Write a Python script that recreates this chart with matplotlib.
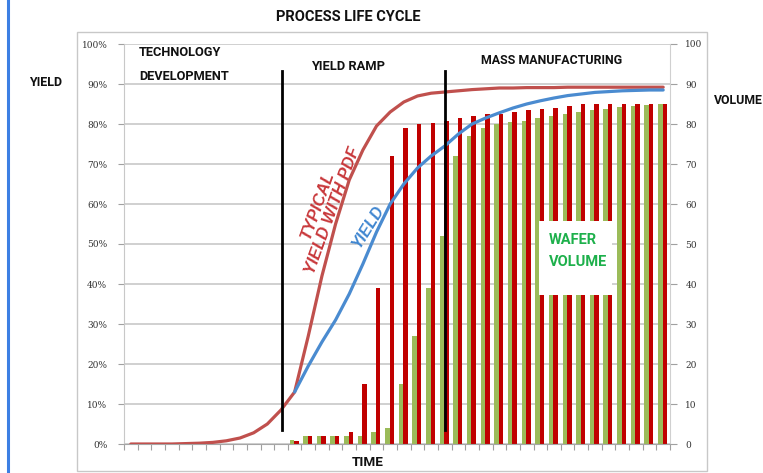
import matplotlib
matplotlib.use("Agg")
import matplotlib.pyplot as plt
import numpy as np
from matplotlib.patches import Rectangle
from matplotlib.lines import Line2D
from matplotlib.ticker import FuncFormatter, MultipleLocator

W, H = 763, 473

# 40 time buckets along the x axis
periods = np.arange(40)

# yield curves in percent
typical_yield_pdf = [0, 0, 0, 0, 0.1, 0.2, 0.4, 0.8, 1.5, 2.8,
                     5, 8.5, 13, 27, 42, 55, 66, 73.5, 79.5, 83,
                     85.5, 87, 87.7, 88, 88.3, 88.6, 88.8, 89, 89, 89.1,
                     89.1, 89.1, 89.2, 89.2, 89.2, 89.2, 89.2, 89.2, 89.2, 89.2]
yield_curve = [np.nan] * 12 + [13, 19.5, 25.5, 31, 37.5, 45, 53, 60, 65, 69,
                               72, 74.5, 77.5, 80, 81.5, 82.8, 84, 85, 85.8, 86.5,
                               87.1, 87.5, 87.9, 88.1, 88.3, 88.4, 88.5, 88.5]

# wafer volume columns
volume_green = [0] * 12 + [1, 2, 2, 2, 2, 2, 3, 4, 15, 27,
                           39, 52, 72, 77, 79, 80, 80.4, 80.8, 81.6, 82.1,
                           82.5, 83.1, 83.5, 83.8, 84.2, 84.5, 84.8, 85]
volume_red = [0] * 12 + [0.8, 2, 2, 2, 3, 15, 39, 72, 79, 80,
                         80.3, 80.8, 81.5, 81.9, 82.4, 82.5, 83.1, 83.4, 83.8, 84.1,
                         84.5, 84.9, 85, 85, 85, 85, 85, 85]

NARROW = ["Roboto", "DejaVu Sans"]
ARIAL = ["Liberation Sans", "DejaVu Sans"]
SERIF = ["DejaVu Serif"]


def px(x, y):
    return x / W, 1 - y / H


fig = plt.figure(figsize=(W / 100, H / 100), dpi=100)
ax = fig.add_axes([124 / W, 29 / H, 546 / W, 400 / H])
ax2 = ax.twinx()
ax.set_zorder(ax2.get_zorder() + 1)
ax.patch.set_visible(False)

# columns and grid on the right (volume) axis
ax2.bar(periods - 0.21, volume_green, width=0.33, color="#9BBB59", zorder=2)
ax2.bar(periods + 0.12, volume_red, width=0.33, color="#C00000", zorder=2)
ax2.set_ylim(0, 100)
ax2.yaxis.set_major_locator(MultipleLocator(10))
ax2.yaxis.grid(True, color="#C4C4C4", lw=1.1)
ax2.set_axisbelow(True)
for s in ["top", "left", "bottom"]:
    ax2.spines[s].set_visible(False)
ax2.spines["right"].set_color("#D0D0D0")
ax2.tick_params(axis="y", direction="out", length=5, color="#A0A0A0",
                labelsize=6.5, labelcolor="#333333", pad=6)
for lab in ax2.get_yticklabels():
    lab.set_family(SERIF)

# white label box over the columns
ax2.add_patch(Rectangle((29.9, 37.25), 5.35, 18.5, facecolor="white",
                        edgecolor="none", zorder=5))
ax2.text(30.6, 48.2, "WAFER\nVOLUME", color="#1DB04B", fontsize=10.5,
         fontweight="bold", family=NARROW, ha="left", va="center",
         linespacing=1.7, zorder=6)

# yield curves on the left axis
ax.plot(periods, np.array(typical_yield_pdf) / 100, color="#C0504D", lw=2.3,
        solid_capstyle="round", zorder=4)
ax.plot(periods, np.array(yield_curve) / 100, color="#4A8BD0", lw=2.3,
        solid_capstyle="round", zorder=5)

# phase boundaries
ax.axvline(11.1, ymin=0.035, ymax=0.933, color="black", lw=2, zorder=6)
ax.axvline(23.0, ymin=0.035, ymax=0.933, color="black", lw=2, zorder=6)

ax.set_xlim(-0.5, 39.5)
ax.set_ylim(0, 1)
ax.yaxis.set_major_locator(MultipleLocator(0.1))
ax.yaxis.set_major_formatter(FuncFormatter(lambda v, p: f"{v * 100:.0f}%"))
ax.set_xticks(np.arange(-0.5, 40, 1))
ax.set_xticklabels([])
ax.tick_params(axis="x", direction="out", length=4, color="#A0A0A0")
ax.tick_params(axis="y", direction="out", length=4, color="#A0A0A0",
               labelsize=6.5, labelcolor="#333333", pad=8)
for lab in ax.get_yticklabels():
    lab.set_family(SERIF)
for s in ["top", "right"]:
    ax.spines[s].set_visible(False)
ax.spines["left"].set_color("#C8C8C8")
ax.spines["bottom"].set_color("#A6A6A6")

# outer chart frame and page edge
fig.patches.append(Rectangle(px(77, 471), 630 / W, 439 / H, transform=fig.transFigure,
                             fill=False, edgecolor="#C8C8C8", lw=1, zorder=0))
fig.lines.append(Line2D([7.5 / W, 7.5 / W], [0, 1], transform=fig.transFigure,
                        color="#3D7FE3", lw=2.2))

txt = dict(color="#111111", fontweight="bold", family=NARROW)
fig.text(*px(348, 17), "PROCESS LIFE CYCLE", ha="center", va="center", fontsize=10.5, **txt)
fig.text(*px(46, 83), "YIELD", ha="center", va="center", fontsize=9, **txt)
fig.text(*px(714, 101), "VOLUME", ha="left", va="center", fontsize=8.8, **txt)
fig.text(*px(139, 65), "TECHNOLOGY\nDEVELOPMENT", ha="left", va="center",
         fontsize=9.2, linespacing=2.1, **txt)
fig.text(*px(311, 66), "YIELD RAMP", ha="left", va="center", fontsize=9.3, **txt)
fig.text(*px(481, 61), "MASS MANUFACTURING", ha="left", va="center", fontsize=8.9, **txt)
fig.text(*px(368, 462), "TIME", ha="center", va="center", fontsize=9.7, **txt)

fig.text(*px(325, 208), "TYPICAL\nYIELD WITH PDF", color="#C8373A", fontsize=12,
         fontweight="bold", fontstyle="italic", family=ARIAL, rotation=70,
         rotation_mode="anchor", ha="center", va="center", linespacing=1.05)
fig.text(*px(368, 227), "YIELD", color="#3F86D0", fontsize=11.5,
         fontweight="bold", fontstyle="italic", family=ARIAL, rotation=58,
         rotation_mode="anchor", ha="center", va="center")

fig.savefig("out.png", dpi=100)
